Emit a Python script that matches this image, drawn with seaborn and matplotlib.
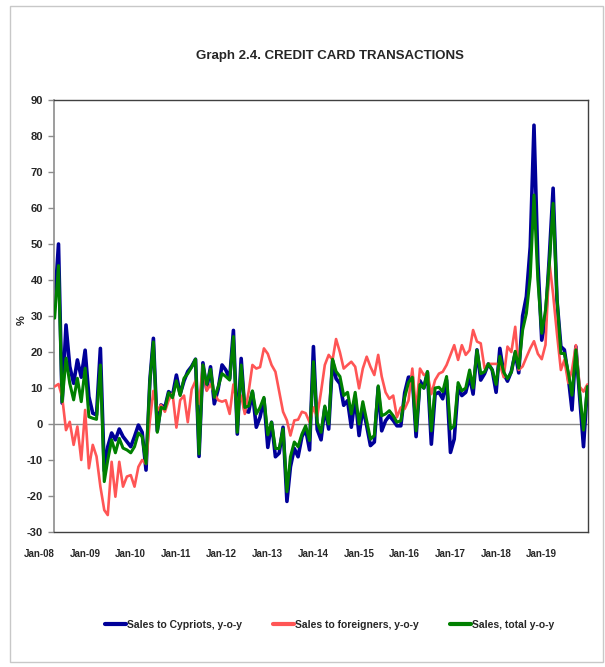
import numpy as np
import pandas as pd
import matplotlib
matplotlib.use("Agg")
import matplotlib.pyplot as plt
import matplotlib.dates as mdates
from matplotlib.patches import Rectangle
import seaborn as sns

# --- data (y-o-y %, monthly Jan-08 .. Sep-19) ---
cypriots = [
    33, 50, 5.8, 27.5, 16, 11.3, 17.8, 13, 20.5, 7.6, 3, 2.5,
    21, -13, -6.3, -2.5, -4.4, -1.4, -3.5, -4.9, -6.3, -3.5, -0.3, -2.3,
    -12.8, 12.2, 23.8, -1.9, 5.3, 4.6, 9, 7.9, 13.6, 8.3, 12, 14.6,
    16, 18, -9, 17, 9.7, 15.9, 5.6, 9.7, 16.4, 15, 12.6, 26,
    -2.8, 18.2, 3.7, 3.3, 8.9, -0.9, 1.9, 7, -6.5, 0.5, -9.1, -8.1,
    -0.9, -21.5, -11.9, -6.8, -9.1, -3.5, -1.5, -7.2, 21.5, -1.5, -4.4, 4.6,
    -1.4, 17.6, 12.6, 11.2, 5.2, 6.5, -0.9, 7.4, -3.2, 4.6, -0.5, -6,
    -5, 10.2, -1.9, 0.9, 2.3, 1, -0.5, -0.5, 8.7, 13, 13, -3.5,
    12, 10, 14.4, -5.6, 8.3, 8.8, 7, 12.2, -7.9, -4.2, 10.2, 7.9,
    8.8, 13.2, 8.3, 20.6, 12.2, 14, 16.7, 15, 8.8, 21, 14, 11.9,
    14.6, 19.7, 14.2, 30, 35.4, 49.2, 83, 45, 23.3, 29, 46.6, 65.5,
    34.4, 21.5, 20.6, 13.2, 3.9, 21.5, 7.6, -6.3, 10.4,
]
foreigners = [
    10.4, 11.1, 7.6, -1.7, 0.6, -5.8, -0.7, -10, 3.9, -12.3, -5.8, -9,
    -17.4, -23.9, -25.3, -10.5, -20.2, -10.5, -17.4, -14.6, -14.2, -17.4, -11.9, -10,
    -11.1, 1, 9.2, 3.7, 5.3, 3.4, 6.6, 8.5, -1, 6.6, 7.9, 0.5,
    9.6, 12, 5.6, 16.4, 9.2, 11, 8.5, 6.6, 6.2, 6.6, 2.8, 11,
    5.6, 7.9, 2.8, 9, 16.4, 15.4, 15.8, 21, 19.5, 16.4, 14.5, 9,
    3.4, 1, -3.2, 1, 1.2, 3.4, 3, 0.5, 4.6, 2, 9, 16.4,
    19.2, 17.8, 23.6, 19.9, 15.4, 16.4, 17.3, 15.9, 9.9, 15.4, 18.7, 15.9,
    13.6, 19.2, 13.2, 8.8, 7, 7.9, 1.9, 4.6, 4.2, 6.5, 15.4, 3.7,
    15.4, 13.6, 14, 8.3, 12.2, 14, 14.5, 16.4, 19.2, 21.9, 17.8, 21.9,
    19.2, 20.5, 26.1, 22.9, 22.4, 15.4, 16.7, 16.7, 16.7, 16.5, 13, 21.5,
    20, 27, 15, 16, 18.5, 21, 23, 19.5, 18, 22, 45, 36,
    25, 15, 17.8, 11.4, 15, 21.9, 10.4, 9, 11,
]
total = [
    29.4, 44, 6.2, 18.3, 11.3, 6.7, 12.7, 6.2, 15.5, 2, 1.6, 1.3,
    16.4, -16, -10, -4.4, -8, -4, -6.7, -7.2, -8, -6.3, -2.5, -3.5,
    -11, 12, 22.8, -2.3, 4.6, 4.2, 8.7, 7.3, 12, 7.9, 12.7, 14,
    15.8, 18, -8.3, 16.4, 11, 15.2, 7.4, 10.3, 14, 13.2, 12.2, 24.3,
    -2.3, 16.4, 4.6, 5, 9.2, 2.8, 4.6, 7.4, -3, 0.5, -6.8, -6.8,
    -1.4, -18.8, -9.1, -5, -6.3, -2.8, -0.5, -4.6, 17.3, 0.5, -2.3, 5,
    0, 18, 14.6, 13.2, 7.9, 8.8, 2.8, 8.8, 0, 6.2, 0.9, -4.2,
    -3.2, 10.6, 2.3, 2.8, 3.7, 2.3, 0.5, 0.9, 7.4, 11.5, 13, -1.9,
    11, 10, 14.6, -1.9, 10, 10.2, 9, 13.2, -1.4, -0.5, 11.5, 9.2,
    10, 15, 10, 20.5, 14, 14.5, 16.7, 15, 11, 18.8, 14.4, 12.6,
    14.4, 20.2, 15.5, 26.1, 30.7, 40.9, 63.6, 40, 25.2, 31.6, 44.5, 61.3,
    35, 19.6, 19.6, 14.4, 8, 20.6, 8.9, -1.7, 10.4,
]
labels = ["Sales to Cypriots, y-o-y", "Sales to foreigners, y-o-y", "Sales, total y-o-y"]
colors = ["#000099", "#FF5555", "#008000"]
months = pd.date_range("2008-01-01", periods=len(cypriots), freq="MS")

df = pd.DataFrame({"date": months, labels[0]: cypriots,
                   labels[1]: foreigners, labels[2]: total})
long = df.melt(id_vars="date", var_name="series", value_name="value")

sns.set_style("white")
plt.rcParams["font.family"] = ["Liberation Sans", "DejaVu Sans"]
plt.rcParams["font.weight"] = "bold"
plt.rcParams["axes.unicode_minus"] = False

fig = plt.figure(figsize=(6.05, 6.67), dpi=100)
ax = fig.add_axes([54 / 605, 1 - 532 / 667, (588 - 54) / 605, (532 - 100) / 667])

sns.lineplot(data=long, x="date", y="value", hue="series", hue_order=labels,
             palette=dict(zip(labels, colors)), ax=ax, legend=False)
for line, lw in zip(ax.get_lines(), [2.6, 1.9, 2.2]):
    line.set_linewidth(lw)
# total drawn on top
ax.get_lines()[0].set_zorder(2)
ax.get_lines()[1].set_zorder(3)
ax.get_lines()[2].set_zorder(4)

ax.axhline(0, color="#8c8c8c", lw=1.0, zorder=1)
ax.set_ylim(-30, 90)
ax.set_yticks(range(-30, 91, 10))
ax.set_xlim(pd.Timestamp("2007-12-27"), pd.Timestamp("2019-09-06"))
ax.xaxis.set_major_locator(mdates.YearLocator(1, month=1, day=1))
ax.xaxis.set_major_formatter(mdates.DateFormatter("%b-%y"))
for t in ax.get_xticklabels():
    t.set_ha("right")
ax.tick_params(axis="x", length=0, pad=12, labelsize=7)
ax.tick_params(axis="y", length=4, width=1, color="#8c8c8c", direction="out",
               labelsize=8, pad=4, left=True)
ax.set_xlabel("")
ax.set_ylabel("")
fig.text(22 / 605, 1 - 320 / 667, "%", rotation=90, ha="center", va="center",
         fontsize=8, fontweight="bold")

for side in ["top", "right", "bottom"]:
    ax.spines[side].set_color("#404040")
    ax.spines[side].set_linewidth(1.0)
ax.spines["left"].set_color("#8c8c8c")
ax.spines["left"].set_linewidth(1.2)

fig.text(0.545, 1 - 56 / 667, "Graph 2.4. CREDIT CARD TRANSACTIONS",
         ha="center", va="center", fontsize=9.5, fontweight="bold")

handles = [plt.Line2D([], [], color=c, lw=3) for c in colors]
fig.legend(handles, labels, loc="center", bbox_to_anchor=(0.545, 1 - 625 / 667),
           ncol=3, frameon=False, fontsize=7.5, handlelength=2.0,
           handletextpad=0.1, columnspacing=3.0)

fig.patches.append(Rectangle((10 / 605, 5 / 667), 593 / 605, 656 / 667,
                             transform=fig.transFigure, fill=False,
                             edgecolor="#c8c8c8", lw=1))

fig.savefig("out.png", dpi=100)
